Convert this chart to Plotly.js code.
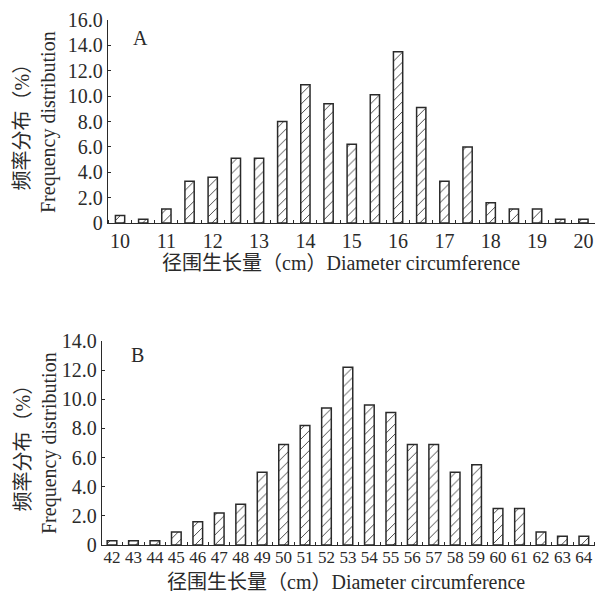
<!DOCTYPE html>
<html>
<head>
<meta charset="utf-8">
<script src="https://cdn.plot.ly/plotly-3.0.1.min.js"></script>
<style>html,body{margin:0;padding:0;background:#fff;}#chart{width:595px;height:595px;}</style>
</head>
<body>
<div id="chart"></div>
<script>
// Panel A data
const classesA = [10,10.5,11,11.5,12,12.5,13,13.5,14,14.5,15,15.5,16,16.5,17,17.5,18,18.5,19,19.5,20];
const freqA = [0.6,0.3,1.1,3.3,3.6,5.1,5.1,8.0,10.9,9.4,6.2,10.1,13.5,9.1,3.3,6.0,1.6,1.1,1.1,0.3,0.3];
const xTicksA = [10,11,12,13,14,15,16,17,18,19,20];
const yTickValsA = [0,2,4,6,8,10,12,14,16];
const yTickTextA = ["0","2.0","4.0","6.0","8.0","10.0","12.0","14.0","16.0"];

// Panel B data
const classesB = [42,43,44,45,46,47,48,49,50,51,52,53,54,55,56,57,58,59,60,61,62,63,64];
const freqB = [0.3,0.3,0.3,0.9,1.6,2.2,2.8,5.0,6.9,8.2,9.4,12.2,9.6,9.1,6.9,6.9,5.0,5.5,2.5,2.5,0.9,0.6,0.6];
const xTicksB = classesB;
const yTickValsB = [0,2,4,6,8,10,12,14];
const yTickTextB = ["0","2.0","4.0","6.0","8.0","10.0","12.0","14.0"];

const titleY = "频率分布（%）<br>Frequency distribution";
const titleX = "径围生长量（cm）Diameter circumference";

const FONT = "Liberation Serif, Noto Sans CJK SC";
const INK = "#2a2a2a";
const FS = 20;

function barTrace(x, y, w, xa, ya) {
  return {
    type: 'bar', x: x, y: y, width: w, xaxis: xa, yaxis: ya,
    marker: {
      color: '#ffffff',
      line: {color: INK, width: 1.5},
      pattern: {shape: '/', fgcolor: INK, bgcolor: '#ffffff', size: 7, solidity: 0.12, fillmode: 'replace'}
    },
    hoverinfo: 'x+y'
  };
}

const data = [
  barTrace(classesA, freqA, 0.2, 'x', 'y'),
  barTrace(classesB, freqB, 0.45, 'x2', 'y2')
];

function xAxis(domain, range, ticks, anchor, minorStart, minorStep, fs, standoff) {
  return {
    domain: domain, range: range, anchor: anchor,
    tickmode: 'array', tickvals: ticks, ticktext: ticks.map(String),
    ticks: '', showgrid: false, zeroline: false, tickangle: 0,
    showline: true, linecolor: INK, linewidth: 1.3,
    ticklabeloverflow: 'allow', ticklabelstandoff: standoff,
    tickfont: {family: FONT, size: fs, color: INK},
    minor: {tick0: minorStart, dtick: minorStep, ticks: 'inside', ticklen: 3, tickwidth: 1, tickcolor: INK, showgrid: false},
    fixedrange: true
  };
}
function yAxis(domain, range, vals, text, anchor) {
  return {
    domain: domain, range: range, anchor: anchor,
    tickmode: 'array', tickvals: vals, ticktext: text,
    ticks: 'inside', ticklen: 3, tickwidth: 1, tickcolor: INK,
    showgrid: false, zeroline: false,
    showline: true, linecolor: INK, linewidth: 1.3,
    tickfont: {family: FONT, size: FS, color: INK},
    fixedrange: true
  };
}

const layout = {
  width: 595, height: 595,
  margin: {l: 0, r: 0, t: 0, b: 0},
  paper_bgcolor: '#ffffff', plot_bgcolor: '#ffffff',
  showlegend: false, bargap: 0,
  font: {family: FONT, color: INK},
  xaxis: xAxis([108/595, 1], [9.74, 20.25], xTicksA, 'y', 10.25, 0.5, FS, 0),
  yaxis: yAxis([1 - 223/595, 1 - 20/595], [0, 16], yTickValsA, yTickTextA, 'x'),
  xaxis2: xAxis([102/595, 1], [41.534, 64.52], xTicksB, 'y2', 42.5, 1, 17, -4),
  yaxis2: yAxis([1 - 545/595, 1 - 341/595], [0, 14], yTickValsB, yTickTextB, 'x2'),
  annotations: [
    {text: 'A', xref: 'paper', yref: 'paper', x: 140/595, y: 1 - 38/595, xanchor: 'center', yanchor: 'middle', showarrow: false, font: {family: FONT, size: FS, color: INK}},
    {text: 'B', xref: 'paper', yref: 'paper', x: 137/595, y: 1 - 355/595, xanchor: 'center', yanchor: 'middle', showarrow: false, font: {family: FONT, size: FS, color: INK}},
    {text: titleY, xref: 'paper', yref: 'paper', x: 36/595, y: 1 - 122/595, xanchor: 'center', yanchor: 'middle', textangle: -90, showarrow: false, font: {family: FONT, size: FS, color: INK}},
    {text: titleY, xref: 'paper', yref: 'paper', x: 36/595, y: 1 - 443/595, xanchor: 'center', yanchor: 'middle', textangle: -90, showarrow: false, font: {family: FONT, size: FS, color: INK}},
    {text: titleX, xref: 'paper', yref: 'paper', x: 341/595, y: 1 - 263/595, xanchor: 'center', yanchor: 'middle', showarrow: false, font: {family: FONT, size: FS, color: INK}},
    {text: titleX, xref: 'paper', yref: 'paper', x: 346/595, y: 1 - 582/595, xanchor: 'center', yanchor: 'middle', showarrow: false, font: {family: FONT, size: FS, color: INK}}
  ]
};

Plotly.newPlot('chart', data, layout, {displayModeBar: false, staticPlot: true});
</script>
</body>
</html>
